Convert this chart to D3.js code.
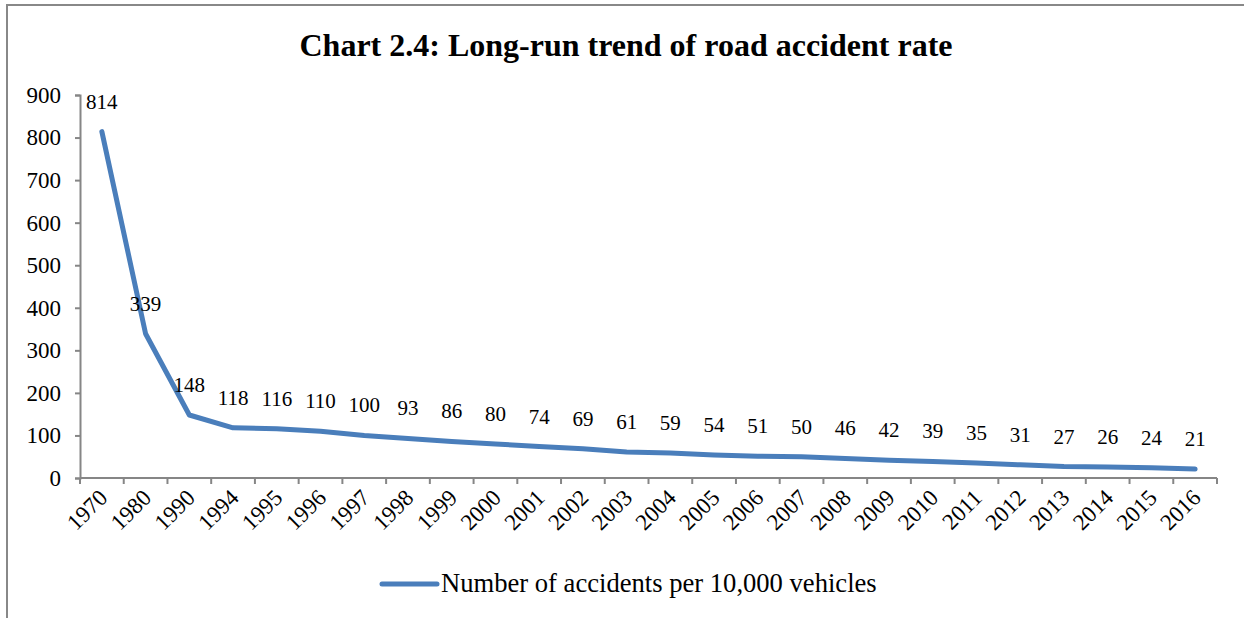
<!DOCTYPE html>
<html>
<head>
<meta charset="utf-8">
<script src="https://cdn.jsdelivr.net/npm/d3@7"></script>
<style>
  body { margin: 0; background: #fff; }
  text { font-family: "Liberation Serif", "Times New Roman", serif; }
</style>
</head>
<body>
<svg class="line-chart"></svg>
<script>
const years = ['1970', '1980', '1990', '1994', '1995', '1996', '1997', '1998', '1999', '2000',
  '2001', '2002', '2003', '2004', '2005', '2006', '2007', '2008', '2009', '2010',
  '2011', '2012', '2013', '2014', '2015', '2016'];
const rates = [814, 339, 148, 118, 116, 110, 100, 93, 86, 80,
  74, 69, 61, 59, 54, 51, 50, 46, 42, 39,
  35, 31, 27, 26, 24, 21];
const yTicks = [0, 100, 200, 300, 400, 500, 600, 700, 800, 900];
const title = 'Chart 2.4: Long-run trend of road accident rate';
const seriesName = 'Number of accidents per 10,000 vehicles';

const data = years.map((y, i) => ({ year: y, value: rates[i] }));

drawChart(data);

function drawChart(data) {
  const svgWidth = 1244, svgHeight = 618;
  const margin = { top: 95, right: 27, bottom: 140, left: 80 };
  const width = svgWidth - margin.left - margin.right;
  const height = svgHeight - margin.top - margin.bottom;
  const axisColor = '#868686';

  const svg = d3.select('svg.line-chart')
    .attr('width', svgWidth)
    .attr('height', svgHeight);

  // outer border (cropped at right and bottom)
  svg.append('rect')
    .attr('x', 7).attr('y', 5)
    .attr('width', 1260).attr('height', 640)
    .attr('fill', 'none')
    .attr('stroke', '#888')
    .attr('stroke-width', 2);

  svg.append('text')
    .attr('x', 626).attr('y', 56)
    .attr('text-anchor', 'middle')
    .attr('font-size', 32)
    .attr('font-weight', 'bold')
    .text(title);

  const g = svg.append('g')
    .attr('transform', `translate(${margin.left}, ${margin.top})`);

  const x = d3.scaleBand()
    .domain(years)
    .range([0, width]);

  const y = d3.scaleLinear()
    .domain([0, 900])
    .range([height, 0]);

  // x axis: ticks sit on band edges
  const xAxis = g.append('g')
    .attr('transform', `translate(0, ${height})`);
  xAxis.append('line')
    .attr('x1', 0).attr('x2', width)
    .attr('stroke', axisColor).attr('stroke-width', 2);
  xAxis.selectAll('.edge')
    .data(years.concat(['end']))
    .join('line')
    .attr('x1', (d, i) => i * x.bandwidth())
    .attr('x2', (d, i) => i * x.bandwidth())
    .attr('y1', 0).attr('y2', 6)
    .attr('stroke', axisColor).attr('stroke-width', 2);
  xAxis.selectAll('text')
    .data(years)
    .join('text')
    .attr('transform', d => `translate(${x(d) + x.bandwidth() / 2 + 7}, ${21}) rotate(-45)`)
    .attr('text-anchor', 'end')
    .attr('font-size', 23)
    .attr('fill', '#000')
    .text(d => d);

  // y axis
  g.append('g')
    .call(d3.axisLeft(y).tickValues(yTicks).tickSize(5).tickPadding(14))
    .call(a => a.select('.domain').attr('stroke', axisColor).attr('stroke-width', 2))
    .call(a => a.selectAll('.tick line').attr('stroke', axisColor).attr('stroke-width', 2))
    .call(a => a.selectAll('.tick text')
      .attr('font-size', 23)
      .attr('fill', '#000')
      .attr('font-family', '"Liberation Serif", "Times New Roman", serif'));

  const line = d3.line()
    .x(d => x(d.year) + x.bandwidth() / 2)
    .y(d => y(d.value));

  g.append('path')
    .datum(data)
    .attr('fill', 'none')
    .attr('stroke', '#4a7ebb')
    .attr('stroke-width', 5)
    .attr('stroke-linejoin', 'round')
    .attr('stroke-linecap', 'round')
    .attr('d', line);

  g.selectAll('.label')
    .data(data)
    .join('text')
    .attr('class', 'label')
    .attr('x', d => x(d.year) + x.bandwidth() / 2)
    .attr('y', d => y(d.value) - 23)
    .attr('text-anchor', 'middle')
    .attr('font-size', 21)
    .attr('fill', '#000')
    .text(d => d.value);

  // legend
  const legend = svg.append('g')
    .attr('transform', 'translate(382, 584)');
  legend.append('line')
    .attr('x1', 0).attr('x2', 55)
    .attr('stroke', '#4a7ebb')
    .attr('stroke-width', 5)
    .attr('stroke-linecap', 'round');
  legend.append('text')
    .attr('x', 59).attr('y', 8)
    .attr('font-size', 26.6)
    .attr('fill', '#000')
    .text(seriesName);
}
</script>
</body>
</html>
